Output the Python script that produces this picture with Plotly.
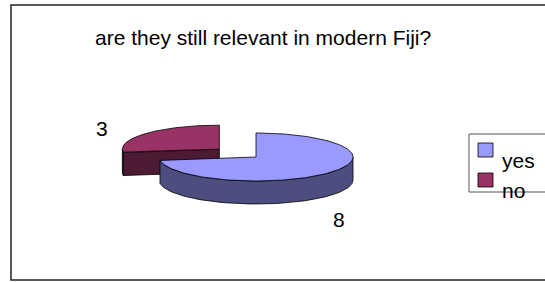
import numpy as np
import plotly.graph_objects as go

# ---- data ----
categories = ["yes", "no"]
values = [8, 3]
top_colors = ["#9999FF", "#993366"]
side_colors = ["#4D4D80", "#4D1A33"]
exploded = [0.0, 0.5]
title_text = "are they still relevant in modern Fiji?"

# ---- layout geometry (pixel-like units) ----
W, H = 545, 282
CX, CY = 256, 157
RX, RY = 97, 24
DEPTH = 23
FONT = "Arial, Liberation Sans, sans-serif"

total = float(sum(values))
starts = np.concatenate([[0.0], np.cumsum(values)[:-1]]) / total * 360.0
ends = np.cumsum(values) / total * 360.0


def pt(theta, ox, oy, dz=0.0):
    t = np.radians(theta)
    return CX + ox + RX * np.sin(t), CY + oy - RY * np.cos(t) + dz


fig = go.Figure()
line = dict(color="#000000", width=0.8)

order = sorted(range(len(values)),
               key=lambda i: -np.cos(np.radians((starts[i] + ends[i]) / 2)))
label_pos = {"yes": (339, 219), "no": (102, 128)}

for i in order:
    a, b = starts[i], ends[i]
    mid = np.radians((a + b) / 2)
    ox = exploded[i] * RX * np.sin(mid)
    oy = -exploded[i] * RY * np.cos(mid)
    c0 = (CX + ox, CY + oy)
    # radial cut faces
    faces = []
    if 180 < a < 360:
        faces.append(a)
    if 0 < b < 180:
        faces.append(b)
    for ang in faces:
        px, py = pt(ang, ox, oy)
        xs = [c0[0], px, px, c0[0], c0[0]]
        ys = [c0[1], py, py + DEPTH, c0[1] + DEPTH, c0[1]]
        fig.add_trace(go.Scatter(x=xs, y=ys, mode="lines", fill="toself",
                                 fillcolor=side_colors[i], line=line,
                                 hoverinfo="skip", showlegend=False))
    # outer arc side
    lo, hi = max(a, 90), min(b, 270)
    if lo < hi:
        th = np.linspace(lo, hi, 80)
        tx, ty = pt(th, ox, oy)
        bx, by = pt(th[::-1], ox, oy, DEPTH)
        xs = np.concatenate([tx, bx, tx[:1]])
        ys = np.concatenate([ty, by, ty[:1]])
        fig.add_trace(go.Scatter(x=xs, y=ys, mode="lines", fill="toself",
                                 fillcolor=side_colors[i], line=line,
                                 hoverinfo="skip", showlegend=False))
    # top face
    th = np.linspace(a, b, 160)
    tx, ty = pt(th, ox, oy)
    xs = np.concatenate([[c0[0]], tx, [c0[0]]])
    ys = np.concatenate([[c0[1]], ty, [c0[1]]])
    fig.add_trace(go.Scatter(x=xs, y=ys, mode="lines", fill="toself",
                             fillcolor=top_colors[i], line=line,
                             hoverinfo="skip", showlegend=False,
                             name=categories[i]))
    lx, ly = label_pos[categories[i]]
    fig.add_annotation(x=lx, y=ly, text=str(values[i]), showarrow=False,
                       font=dict(family=FONT, size=21, color="#000000"),
                       xanchor="center", yanchor="middle")

# title
fig.add_annotation(x=263, y=37, text=title_text, showarrow=False,
                   font=dict(family=FONT, size=21, color="#000000"),
                   xanchor="center", yanchor="middle")

shapes = [
    dict(type="rect", x0=11, y0=5, x1=W + 20, y1=280,
         line=dict(color="#222222", width=1.5), layer="below"),
    dict(type="rect", x0=469, y0=134, x1=W + 20, y1=192,
         line=dict(color="#555555", width=1), fillcolor="#FFFFFF", layer="below"),
]
leg_y = [150, 180]
for i, cat in enumerate(categories):
    shapes.append(dict(type="rect", x0=478, y0=leg_y[i] - 7, x1=493, y1=leg_y[i] + 7,
                       line=dict(color="#000000", width=0.8),
                       fillcolor=top_colors[i], layer="above"))
    fig.add_annotation(x=500, y=leg_y[i] + 10, text=cat, showarrow=False,
                       font=dict(family=FONT, size=21, color="#000000"),
                       xanchor="left", yanchor="middle")

fig.update_layout(
    width=W, height=H,
    margin=dict(l=0, r=0, t=0, b=0, pad=0),
    paper_bgcolor="#FFFFFF", plot_bgcolor="#FFFFFF",
    xaxis=dict(range=[0, W], visible=False, fixedrange=True),
    yaxis=dict(range=[H, 0], visible=False, fixedrange=True),
    shapes=shapes,
    showlegend=False,
)

fig.write_html("out.html", config={"displayModeBar": False},
               post_script="document.body.style.margin='0';document.body.style.overflow='hidden';")
